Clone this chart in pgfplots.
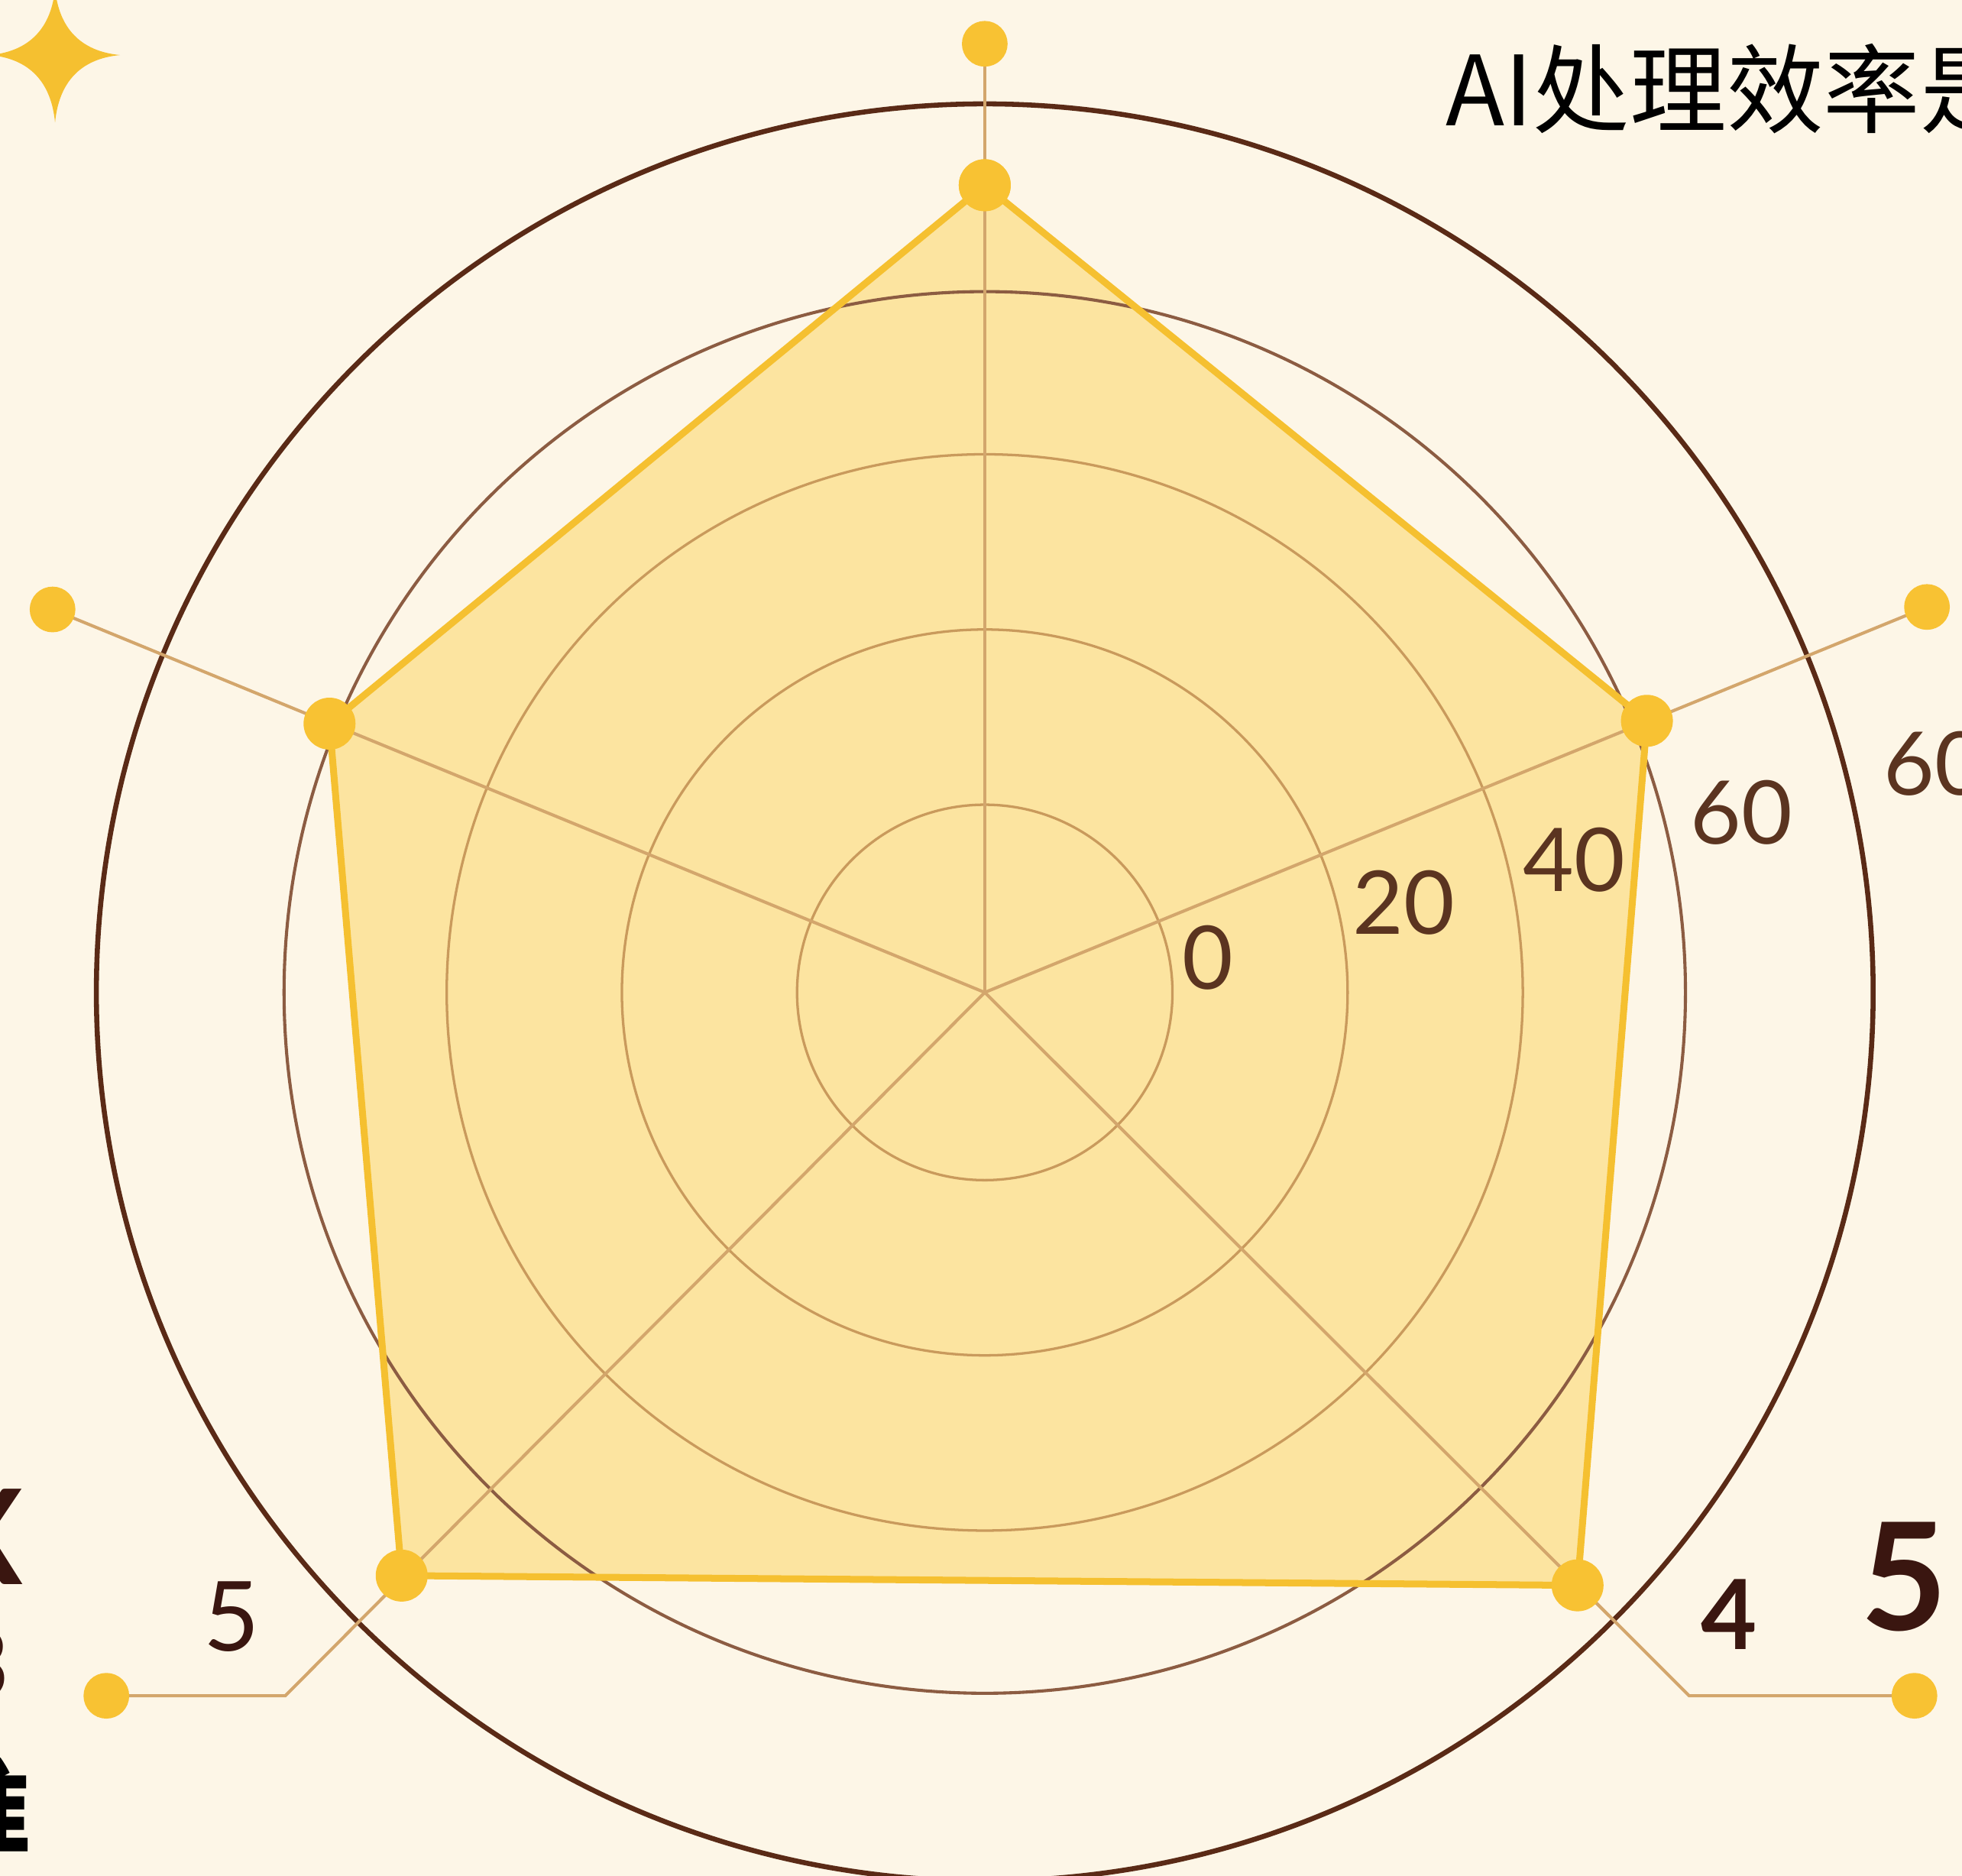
\documentclass[border=0pt]{standalone}
\usepackage{pgfplots}
\pgfplotsset{compat=1.18}
\usepackage{fontspec}
\setmainfont{Lato}
\newfontfamily\cjk{Noto Sans CJK SC}
\definecolor{bg}{HTML}{FDF6E7}
\definecolor{areafill}{HTML}{FCE4A0}
\definecolor{gold}{HTML}{F5C030}
\definecolor{dot}{HTML}{F8C233}
\definecolor{spoke}{HTML}{D3A66C}
\definecolor{ringA}{HTML}{C99A5C}
\definecolor{ringB}{HTML}{8C5C42}
\definecolor{ringC}{HTML}{5A2A16}
\definecolor{lab}{HTML}{5B3420}
\definecolor{dark}{HTML}{3A1610}
\begin{document}
\begin{tikzpicture}
\begin{axis}[x=0.1mm, y=0.1mm, xmin=-787, xmax=781, ymin=-706, ymax=793,
  hide axis, clip=true]
% background
\fill[bg] (axis cs:-787,-706) rectangle (axis cs:781,793);
% data area (polar: angle, radius)
\addplot[data cs=polar, draw=none, fill=areafill] coordinates {
  (90,645) (157.7,566) (225,659) (315,670) (22.3,572) (90,645)};
% rings
\draw[ringA, line width=0.2mm] (axis cs:0,0) circle[radius=15mm];
\draw[ringA, line width=0.2mm] (axis cs:0,0) circle[radius=29mm];
\draw[ringA, line width=0.2mm] (axis cs:0,0) circle[radius=43mm];
\draw[ringB, line width=0.25mm] (axis cs:0,0) circle[radius=56mm];
\draw[ringC, line width=0.4mm] (axis cs:0,0) circle[radius=71mm];
% spokes with end dots
\addplot[spoke, line width=0.25mm, mark=*, mark size=1.7mm, mark indices={2},
  mark options={fill=dot, draw=dot}] coordinates {(0,0) (0,758)};
\addplot[spoke, line width=0.25mm, mark=*, mark size=1.7mm, mark indices={2},
  mark options={fill=dot, draw=dot}] coordinates {(0,0) (753,308)};
\addplot[spoke, line width=0.25mm, mark=*, mark size=1.7mm, mark indices={2},
  mark options={fill=dot, draw=dot}] coordinates {(0,0) (-745,306)};
\addplot[spoke, line width=0.25mm, mark=*, mark size=1.7mm, mark indices={3},
  mark options={fill=dot, draw=dot}] coordinates {(0,0) (-559,-562) (-702,-562)};
\addplot[spoke, line width=0.25mm, mark=*, mark size=1.7mm, mark indices={3},
  mark options={fill=dot, draw=dot}] coordinates {(0,0) (563,-562) (743,-562)};
% data outline and points
\addplot[data cs=polar, draw=gold, line width=0.55mm, line join=round,
  mark=*, mark size=1.8mm, mark options={fill=dot, draw=dot}] coordinates {
  (90,645) (157.7,566) (225,659) (315,670) (22.3,572) (90,645)};
% ring labels
\node[text=lab, font=\fontsize{20}{24}\selectfont] at (axis cs:178,28) {0};
\node[text=lab, font=\fontsize{20}{24}\selectfont] at (axis cs:335,72) {20};
\node[text=lab, font=\fontsize{20}{24}\selectfont] at (axis cs:471,106) {40};
\node[text=lab, font=\fontsize{20}{24}\selectfont] at (axis cs:605,144) {60};
\node[text=lab, font=\fontsize{20}{24}\selectfont, anchor=west] at (axis cs:706,183) {60};
% axis-end labels
\node[text=dark, font=\fontsize{22}{26}\selectfont] at (axis cs:-602,-499) {5};
\node[text=dark, font=\fontsize{22}{26}\selectfont\bfseries] at (axis cs:595,-497) {4};
\node[text=dark, font=\fontsize{34}{40}\selectfont\bfseries] at (axis cs:735,-467) {5};
% title (cut at the right edge)
\node[anchor=west, text=black, font=\cjk\fontsize{22}{26}\selectfont, inner sep=0pt] at (axis cs:368,722) {AI处理效率是};
% partial text at the left edge
\node[anchor=east, text=dark, font=\fontsize{30}{34}\selectfont\bfseries, inner sep=0pt] at (axis cs:-768,-435) {X};
\node[anchor=east, text=dark, font=\fontsize{22}{26}\selectfont\bfseries, inner sep=0pt] at (axis cs:-779,-537) {3};
\node[anchor=east, text=black, font=\cjk\fontsize{24}{28}\selectfont\bfseries, inner sep=0pt] at (axis cs:-762,-652) {准};
% sparkle
\fill[gold] (axis cs:-743,802) .. controls (axis cs:-740,771) and (axis cs:-723,752) .. (axis cs:-691,749)
  .. controls (axis cs:-723,746) and (axis cs:-740,727) .. (axis cs:-743,695)
  .. controls (axis cs:-746,727) and (axis cs:-763,746) .. (axis cs:-795,749)
  .. controls (axis cs:-763,752) and (axis cs:-746,771) .. cycle;
\end{axis}
\pgfresetboundingbox
\path[use as bounding box] (current axis.south west) rectangle (current axis.north east);
\end{tikzpicture}
\end{document}
